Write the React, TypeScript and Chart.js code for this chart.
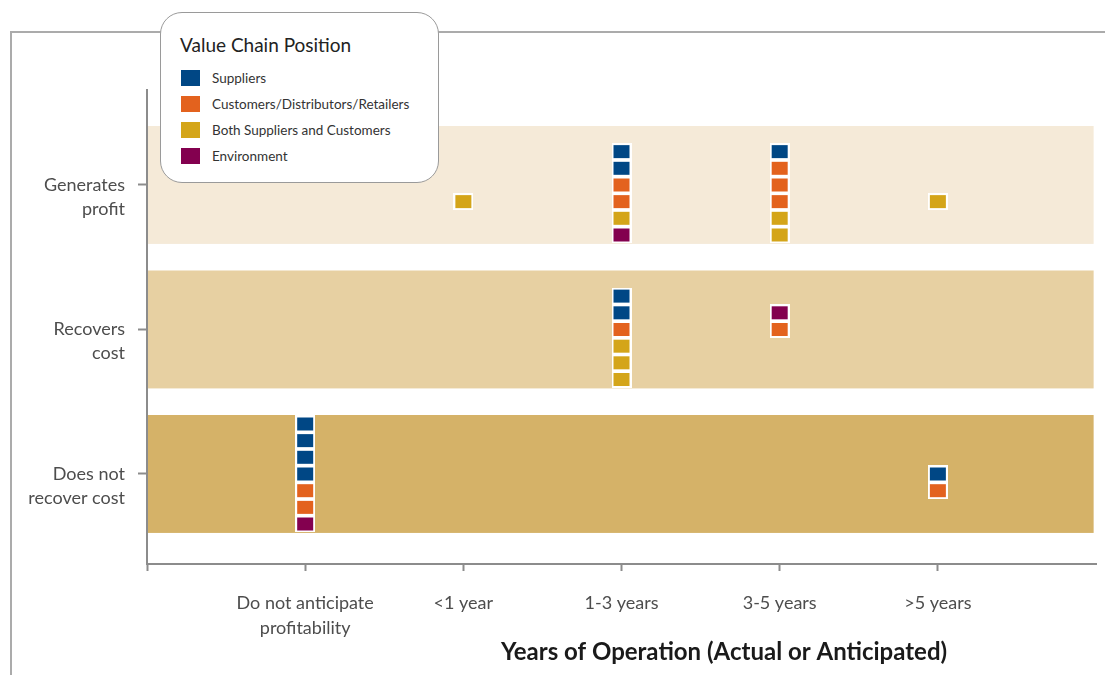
import React, { useEffect, useRef } from 'react';
import { Chart, registerables } from 'chart.js';

Chart.register(...registerables);

// ---- Data ----
const xTickLabels: (string | string[])[] = ['', ['Do not anticipate', 'profitability'], '<1 year', '1-3 years', '3-5 years', '>5 years'];
const outcomeLabels: string[][] = [
  ['', 'Does not', 'recover cost'],
  ['', 'Recovers', 'cost'],
  ['', 'Generates', 'profit'],
];
const seriesNames = ['Suppliers', 'Customers/Distributors/Retailers', 'Both Suppliers and Customers', 'Environment'];
const seriesColors = ['#004785', '#E3621E', '#D4A519', '#83004F'];
const bandColors = ['#D5B268', '#E7D0A2', '#F5EAD8'];
const xTitle = 'Years of Operation (Actual or Anticipated)';
const legendTitle = 'Value Chain Position';

// [yearIndex, outcomeIndex, stackSlot]  (slot 0 = row centre, positive = lower in the stack)
const suppliersPoints = [[3, 2, -2], [3, 2, -1], [4, 2, -2], [3, 1, -2], [3, 1, -1], [1, 0, -3], [1, 0, -2], [1, 0, -1], [1, 0, 0], [5, 0, 0]];
const customersPoints = [[3, 2, 0], [3, 2, 1], [4, 2, -1], [4, 2, 0], [4, 2, 1], [3, 1, 0], [4, 1, 0], [1, 0, 1], [1, 0, 2], [5, 0, 1]];
const bothPoints = [[2, 2, 1], [3, 2, 2], [4, 2, 2], [4, 2, 3], [5, 2, 1], [3, 1, 1], [3, 1, 2], [3, 1, 3]];
const environmentPoints = [[3, 2, 3], [4, 1, -1], [1, 0, 3]];
const seriesPoints = [suppliersPoints, customersPoints, bothPoints, environmentPoints];

const SLOT_STEP = 0.1154;
const BAND_HALF = 0.408;
const BAND_END = 5.985;
const FONT = 'Lato, "Open Sans", sans-serif';
const TEXT = '#4d4d4d';
const AXIS = '#8c8c8c';

function makeMarker(color: string) {
  const c = document.createElement('canvas');
  c.width = 20;
  c.height = 17;
  const ctx = c.getContext('2d')!;
  ctx.fillStyle = '#ffffff';
  ctx.fillRect(0, 0, 20, 17);
  ctx.fillStyle = color;
  ctx.fillRect(2, 2, 16, 13);
  return c;
}

export default function App() {
  const canvasRef = useRef<HTMLCanvasElement | null>(null);

  useEffect(() => {
    if (!canvasRef.current) return;

    const bandsPlugin = {
      id: 'bands',
      beforeDraw(chart: any) {
        const { ctx, scales } = chart;
        const xs = scales.x;
        const ys = scales.y;
        ctx.save();
        bandColors.forEach((col, r) => {
          const top = ys.getPixelForValue(r + BAND_HALF);
          const bottom = ys.getPixelForValue(r - BAND_HALF);
          const left = xs.getPixelForValue(xs.min);
          const right = xs.getPixelForValue(BAND_END);
          ctx.fillStyle = col;
          ctx.fillRect(left, top, right - left, bottom - top);
        });
        ctx.restore();
      },
      afterDraw(chart: any) {
        const { ctx, chartArea } = chart;
        ctx.save();
        ctx.font = `bold 24px ${FONT}`;
        ctx.fillStyle = '#1a1a1a';
        ctx.textAlign = 'center';
        ctx.textBaseline = 'middle';
        ctx.fillText(xTitle, chartArea.left + 577, chartArea.bottom + 88);
        ctx.restore();
      },
    };

    const datasets = seriesNames.map((name, i) => ({
      label: name,
      data: seriesPoints[i].map(([xi, row, slot]) => ({ x: xi, y: row - slot * SLOT_STEP })),
      pointStyle: makeMarker(seriesColors[i]),
      pointRadius: 8,
      pointHoverRadius: 8,
      backgroundColor: seriesColors[i],
      borderColor: seriesColors[i],
      showLine: false,
    }));

    const chart = new Chart(canvasRef.current, {
      type: 'scatter',
      data: { datasets },
      plugins: [bandsPlugin],
      options: {
        animation: false,
        responsive: true,
        maintainAspectRatio: false,
        layout: { padding: { top: 90, right: 5, left: 0, bottom: 0 } },
        plugins: {
          legend: { display: false },
          tooltip: { enabled: false },
        },
        scales: {
          x: {
            type: 'linear',
            min: 0,
            max: 6,
            afterBuildTicks: (scale: any) => {
              scale.ticks = [0, 1, 2, 3, 4, 5].map((v) => ({ value: v }));
            },
            afterFit: (scale: any) => {
              scale.height = 111;
            },
            grid: {
              drawOnChartArea: false,
              drawTicks: true,
              tickLength: 7,
              tickColor: AXIS,
              tickWidth: 2,
            },
            border: { display: true, color: AXIS, width: 2 },
            ticks: {
              autoSkip: false,
              maxRotation: 0,
              padding: 20,
              color: TEXT,
              font: { family: FONT, size: 18, lineHeight: 1.39 },
              callback: (v: any) => xTickLabels[Math.round(Number(v))] ?? '',
            },
          },
          y: {
            type: 'linear',
            min: -0.623,
            max: 2.657,
            afterBuildTicks: (scale: any) => {
              scale.ticks = [0, 1, 2].map((v) => ({ value: v }));
            },
            afterFit: (scale: any) => {
              scale.width = 147;
            },
            grid: {
              drawOnChartArea: false,
              drawTicks: true,
              tickLength: 9,
              tickColor: AXIS,
              tickWidth: 2,
            },
            border: { display: true, color: AXIS, width: 2 },
            ticks: {
              autoSkip: false,
              padding: 13,
              color: TEXT,
              font: { family: FONT, size: 18, lineHeight: 1.33 },
              callback: (v: any) => outcomeLabels[Math.round(Number(v))] ?? '',
            },
          },
        },
      },
    } as any);

    return () => chart.destroy();
  }, []);

  return (
    <div style={{ position: 'fixed', left: 0, top: 0, width: 1105, height: 675, background: '#ffffff', overflow: 'hidden' }}>
      <div
        style={{
          position: 'absolute',
          left: 10,
          top: 31,
          width: 1100,
          height: 660,
          borderTop: '2px solid #ababab',
          borderLeft: '2px solid #ababab',
        }}
      />
      <canvas ref={canvasRef} style={{ position: 'absolute', left: 0, top: 0 }} />
      <div
        style={{
          position: 'absolute',
          left: 160,
          top: 12,
          width: 277,
          height: 169,
          border: '1.5px solid #9a9a9a',
          borderRadius: 22,
          background: '#ffffff',
          fontFamily: FONT,
        }}
      >
        <div style={{ position: 'absolute', left: 19, top: 20, fontSize: 19, color: '#222222', lineHeight: '24px', whiteSpace: 'nowrap' }}>
          {legendTitle}
        </div>
        {seriesNames.map((name, i) => (
          <div
            key={name}
            style={{ position: 'absolute', left: 20, top: 52 + i * 26, height: 26, display: 'flex', alignItems: 'center', whiteSpace: 'nowrap' }}
          >
            <span style={{ display: 'inline-block', width: 19, height: 16, background: seriesColors[i], marginRight: 12 }} />
            <span style={{ fontSize: 13.5, color: '#333333' }}>{name}</span>
          </div>
        ))}
      </div>
    </div>
  );
}
